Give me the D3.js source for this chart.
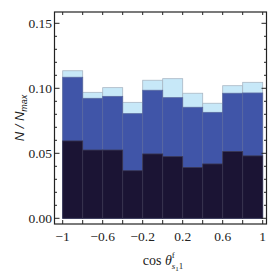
<!DOCTYPE html>
<html><head><meta charset="utf-8">
<script src="https://cdn.jsdelivr.net/npm/d3@7"></script>
<style>body{margin:0;background:#fff}svg{display:block}</style>
</head><body>
<script>
const binEdges = [-1,-0.8,-0.6,-0.4,-0.2,0,0.2,0.4,0.6,0.8,1];
const lightVals = [0.1135,0.0969,0.1005,0.0892,0.1062,0.1074,0.0962,0.0885,0.1020,0.1046];
const midVals   = [0.1085,0.0923,0.0938,0.0805,0.0985,0.0928,0.0854,0.0815,0.0962,0.0964];
const darkVals  = [0.0595,0.0525,0.0525,0.0366,0.0495,0.0474,0.0390,0.0418,0.0513,0.0480];
const xTickVals = [-1,-0.6,-0.2,0.2,0.6,1];
const xTickLabels = ["\u22121","\u22120.6","\u22120.2","0.2","0.6","1"];
const yTickVals = [0,0.05,0.10,0.15];
const yTickLabels = ["0.00","0.05","0.10","0.15"];

const W=273,H=273;
const svg=d3.select("body").append("svg").attr("width",W).attr("height",H);
const L=54.5,R=266.5,T=12,B=224;
const x=d3.scaleLinear().domain([-1,1]).range([62.7,262.7]);
const y=d3.scaleLinear().domain([0,0.15]).range([218.3,23.3]);

const series=[
 {vals:lightVals,fill:"#c7e8f8",stroke:"#a9b7c4"},
 {vals:midVals,fill:"#4055a8",stroke:"#5a6aa0"},
 {vals:darkVals,fill:"#1b1434",stroke:"#3a3650"}
];
series.forEach(s=>{
  svg.append("g").selectAll("rect").data(s.vals).join("rect")
   .attr("x",(d,i)=>x(binEdges[i]))
   .attr("width",(d,i)=>x(binEdges[i+1])-x(binEdges[i]))
   .attr("y",d=>y(d)).attr("height",d=>y(0)-y(d))
   .attr("fill",s.fill).attr("stroke",s.stroke).attr("stroke-width",0.8);
});

// frame
svg.append("rect").attr("x",L).attr("y",T).attr("width",R-L).attr("height",B-T)
 .attr("fill","none").attr("stroke","#222").attr("stroke-width",1.2);

const tk=svg.append("g").attr("stroke","#222").attr("stroke-width",1);
// x ticks every 0.2 on top and bottom
const xAll=binEdges;
xAll.forEach(v=>{
  tk.append("line").attr("x1",x(v)).attr("x2",x(v)).attr("y1",B).attr("y2",B-4);
  tk.append("line").attr("x1",x(v)).attr("x2",x(v)).attr("y1",T).attr("y2",T+3);
});
// y ticks: major every 0.05, minor every 0.01
d3.range(0,16).forEach(k=>{
  const v=k*0.01; const maj=(k%5===0);
  const len=maj?5:2.5;
  tk.append("line").attr("x1",L).attr("x2",L+len).attr("y1",y(v)).attr("y2",y(v));
  tk.append("line").attr("x1",R).attr("x2",R-len).attr("y1",y(v)).attr("y2",y(v));
});

const font="'Liberation Serif','Times New Roman',serif";
svg.append("g").selectAll("text").data(yTickVals).join("text")
 .attr("x",52).attr("y",d=>y(d)).attr("dy","0.35em").attr("text-anchor","end")
 .attr("font-family",font).attr("font-size",13.5).attr("fill","#222")
 .text((d,i)=>yTickLabels[i]);
svg.append("g").selectAll("text").data(xTickVals).join("text")
 .attr("x",d=>x(d)).attr("y",241).attr("text-anchor","middle")
 .attr("font-family",font).attr("font-size",13.5).attr("fill","#222")
 .text((d,i)=>xTickLabels[i]);

// y label
const yl=svg.append("text").attr("transform","translate(24,118) rotate(-90)")
 .attr("text-anchor","middle").attr("font-family","'Liberation Sans',Arial,sans-serif")
 .attr("font-style","italic").attr("font-size",13).attr("fill","#222");
yl.append("tspan").text("N / N");
yl.append("tspan").attr("font-size",9).attr("dy",3).text("max");

// x label
const xl=svg.append("text").attr("x",163).attr("y",265).attr("text-anchor","middle")
 .attr("font-family",font).attr("font-size",14).attr("fill","#222");
xl.append("tspan").text("cos ");
xl.append("tspan").attr("font-style","italic").text("\u03b8");
xl.append("tspan").attr("font-size",9).attr("dy",-7).text("f");
xl.append("tspan").attr("font-size",9).attr("font-style","italic").attr("dx",-3).attr("dy",11).text("s");
xl.append("tspan").attr("font-size",7).attr("dy",2).text("1");
xl.append("tspan").attr("font-size",9).attr("dy",-2).text("1");
</script>
</body></html>
